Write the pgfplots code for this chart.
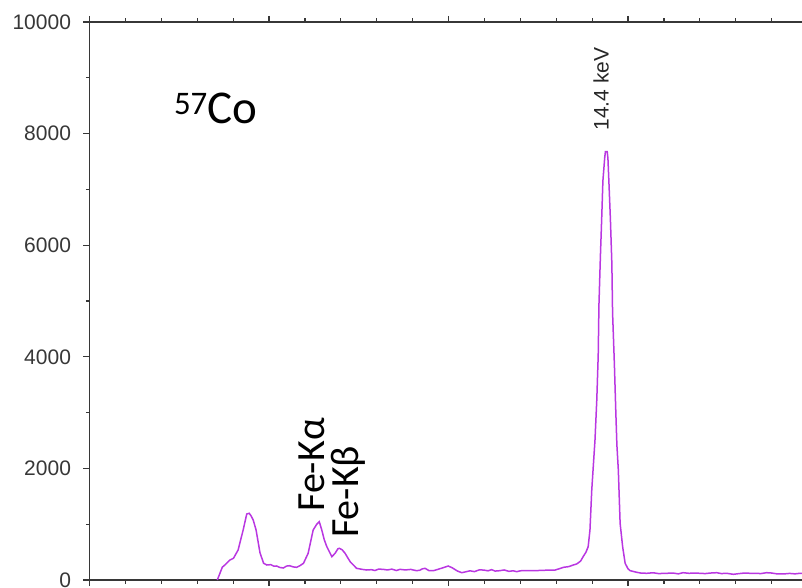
\documentclass[border=0pt]{standalone}
\usepackage{fontspec}
\setmainfont{Liberation Sans}
\newfontfamily\calibri{Carlito}
\usepackage{pgfplots}
\pgfplotsset{compat=1.18}
\definecolor{axgray}{RGB}{55,55,55}
\definecolor{specpurple}{RGB}{185,55,225}
\begin{document}
\begin{tikzpicture}
\useasboundingbox (-89.5pt,-8pt) rectangle (712.5pt,580pt);
\begin{axis}[
  at={(0,0)}, anchor=south west,
  scale only axis,
  width=725.2pt, height=558pt,
  xmin=0, xmax=20.2, ymin=0, ymax=10000,
  xtick={0,5,10,15,20}, minor x tick num=4,
  xticklabels={},
  ytick={0,2000,4000,6000,8000,10000}, minor y tick num=1,
  scaled y ticks=false,
  /pgf/number format/assume math mode=true,
  /pgf/number format/1000 sep={},
  tick align=outside,
  major tick length=6pt, minor tick length=3.5pt,
  tick style={axgray, line width=1.2pt},
  axis line style={axgray, line width=1.4pt},
  yticklabel style={font=\fontsize{21}{24}\selectfont, text=axgray, xshift=-9pt},
  clip=true,
]
\addplot[specpurple, line width=1.5pt] coordinates {
(3.56,0) (3.70,230) (3.77,269) (3.91,358) (4.01,389) (4.14,538) (4.28,896) (4.38,1183) (4.45,1195) (4.50,1150) (4.56,1075) (4.64,896) (4.75,484) (4.85,300) (4.94,269)
(5.05,275) (5.13,250) (5.21,251) (5.30,225) (5.40,215) (5.49,250) (5.58,256) (5.67,235) (5.77,227) (5.87,260) (5.96,299)
(6.09,478) (6.23,896) (6.33,1000) (6.40,1045) (6.47,896) (6.54,720) (6.61,597) (6.75,418) (6.84,478) (6.92,560) (6.96,568) (7.04,540) (7.12,478) (7.26,328) (7.44,209)
(7.60,190) (7.72,179) (7.85,185) (7.95,170) (8.05,195) (8.18,191) (8.30,180) (8.42,195) (8.55,170) (8.65,191) (8.80,180) (8.95,190) (9.05,175) (9.11,167) (9.20,175) (9.27,200) (9.35,209) (9.45,170) (9.58,167) (9.70,190) (9.85,220) (9.99,251)
(10.10,220) (10.25,160) (10.37,131) (10.50,150) (10.60,165) (10.72,150) (10.85,180) (10.97,179) (11.10,165) (11.20,185) (11.30,160) (11.43,167) (11.55,180) (11.68,155) (11.80,165) (11.90,149) (12.00,165) (12.15,170) (12.36,167) (12.50,170) (12.70,175) (12.97,179)
(13.10,205) (13.20,227) (13.35,240) (13.48,270) (13.57,287) (13.68,340) (13.75,418) (13.83,500) (13.89,597) (13.94,896) (13.99,1613) (14.05,2210) (14.08,2509) (14.13,3226) (14.17,4032) (14.19,4928) (14.23,5788) (14.27,6541) (14.30,7150) (14.35,7562) (14.37,7675) (14.42,7675)
(14.44,7562) (14.47,7096) (14.51,6451) (14.55,5663) (14.57,4785) (14.62,3871) (14.66,3011) (14.69,2419) (14.73,1971) (14.78,1016) (14.85,597) (14.92,299) (15.00,200) (15.06,167) (15.24,138) (15.35,125) (15.52,120) (15.70,130) (15.85,115)
(16.08,120) (16.25,125) (16.40,110) (16.53,131) (16.70,120) (16.85,125) (17.00,120) (17.15,115) (17.30,125) (17.47,131) (17.60,115) (17.75,120) (17.93,102) (18.10,115) (18.25,125) (18.40,120) (18.55,120) (18.70,115) (18.86,131) (19.00,125) (19.15,110) (19.33,108) (19.50,118) (19.65,110) (19.79,120) (20.00,115) (20.20,118)
};
\node[rotate=90, font=\fontsize{21}{23}\selectfont, text=black!85] at (axis cs:14.25,8799) {14.4 keV};
\node[rotate=90, font=\calibri\fontsize{40}{42}\selectfont] at (axis cs:6.20,2060) {Fe-Kα};
\node[rotate=90, font=\calibri\fontsize{40}{42}\selectfont] at (axis cs:7.22,1580) {Fe-Kβ};
\node[anchor=base west, inner sep=0pt, font=\calibri\fontsize{47}{50}\selectfont] at (axis cs:2.35,8189) {\textsuperscript{57}Co};
\end{axis}
\end{tikzpicture}
\end{document}
